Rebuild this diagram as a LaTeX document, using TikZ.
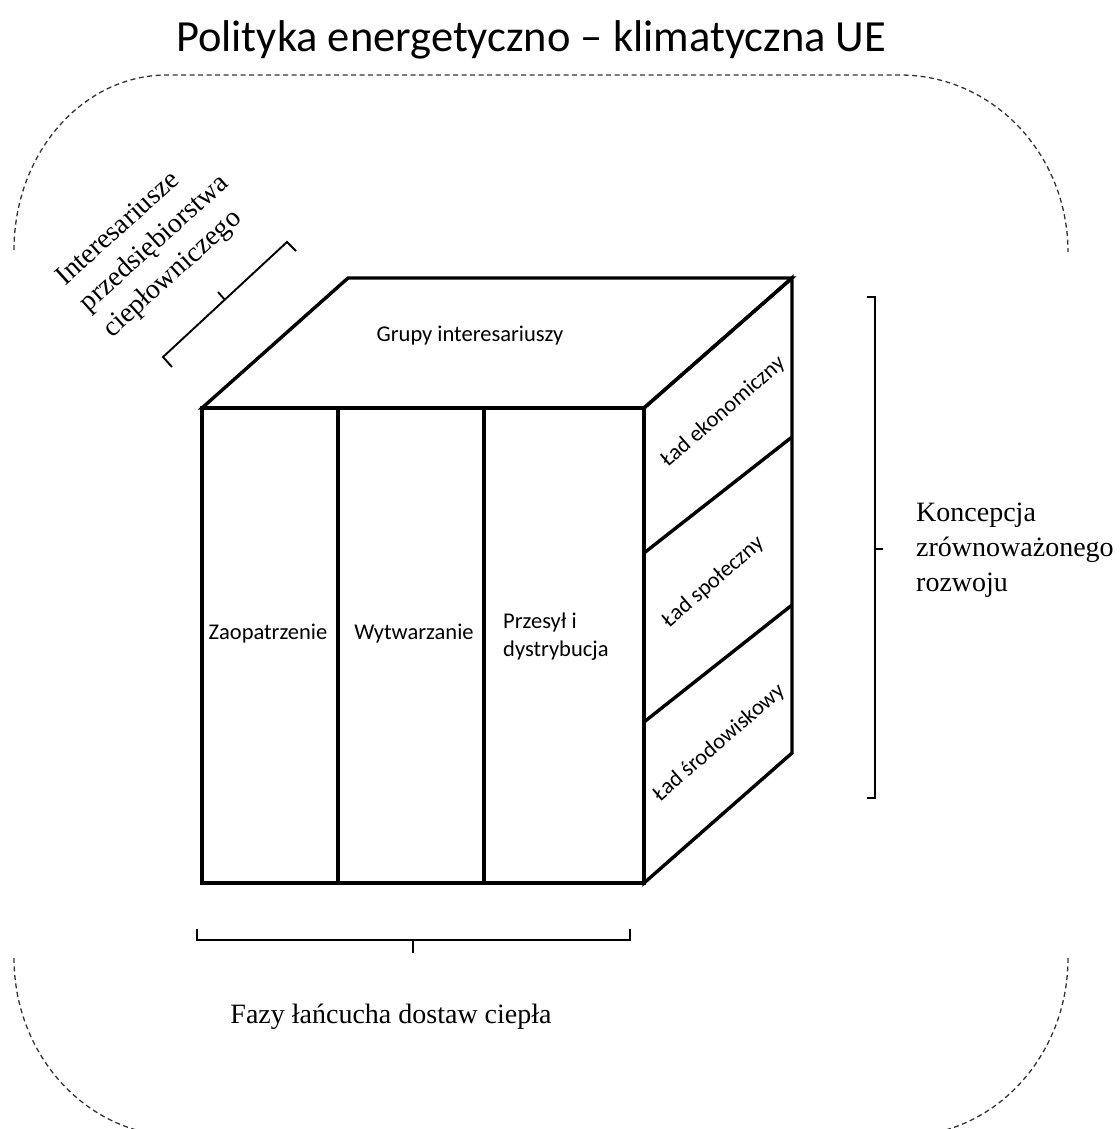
\documentclass[tikz,border=0pt]{standalone}
\usepackage{fontspec}
\setmainfont{Liberation Serif}
\newfontfamily\calib{Carlito}
\begin{document}
\begin{tikzpicture}[x=1pt,y=-1pt,
  cubeline/.style={line width=3.4pt, line join=miter},
  bracketline/.style={line width=1.9pt, line join=miter},
  frameline/.style={dash pattern=on 5pt off 3.5pt, line width=1.3pt, draw=black!80},
  cubelabel/.style={font=\calib\fontsize{22.5}{28}\selectfont, inner sep=0pt},
  seriflabel/.style={font=\fontsize{28}{35}\selectfont, inner sep=0pt}
]
\useasboundingbox (0,0) rectangle (1119,1129);
% title
\node[font=\calib\fontsize{44.5}{50}\selectfont, inner sep=0pt] (title) at (531,40) {Polityka energetyczno – klimatyczna UE};
% dashed frame (corners only)
\draw[frameline] (14,250) arc[start angle=180,end angle=270,x radius=153,y radius=175] -- (900,75)
  arc[start angle=270,end angle=360,x radius=168,y radius=177];
\draw[frameline] (14,958) arc[start angle=180,end angle=90,x radius=165,y radius=178];
\draw[frameline] (1068,958) arc[start angle=0,end angle=90,x radius=165,y radius=178];
% cube corners
\coordinate (ftl) at (202,408);
\coordinate (ftr) at (644,408);
\coordinate (fbr) at (644,883);
\coordinate (fbl) at (202,883);
\coordinate (btl) at (348,278);
\coordinate (btr) at (792,278);
\coordinate (bbr) at (792,753);
\coordinate (d1t) at (338,408);
\coordinate (d1b) at (338,883);
\coordinate (d2t) at (484,408);
\coordinate (d2b) at (484,883);
\coordinate (s1l) at (644,553);
\coordinate (s1r) at (792,437);
\coordinate (s2l) at (644,722);
\coordinate (s2r) at (792,605);
% cube
\draw[cubeline] (ftl) -- (btl) -- (btr) -- (ftr) -- cycle;
\draw[cubeline] (ftr) -- (btr) -- (bbr) -- (fbr) -- cycle;
\draw[cubeline] (ftl) rectangle (fbr);
\draw[cubeline] (d1t) -- (d1b);
\draw[cubeline] (d2t) -- (d2b);
\draw[cubeline] (s1l) -- (s1r);
\draw[cubeline] (s2l) -- (s2r);
% cube labels
\node[cubelabel] (grupy) at (470,336) {Grupy interesariuszy};
\node[cubelabel] (zaop) at (268,634) {Zaopatrzenie};
\node[cubelabel] (wytw) at (414,634) {Wytwarzanie};
\node[cubelabel, anchor=west, align=left] (przes) at (503,637) {Przesył i\\dystrybucja};
\node[cubelabel, rotate=41] (ekon) at (723,412) {Ład ekonomiczny};
\node[cubelabel, rotate=41] (spol) at (713,582) {Ład społeczny};
\node[cubelabel, rotate=41] (srod) at (719,743) {Ład środowiskowy};
% upper-left bracket and label
\coordinate (ula) at (172,367);
\coordinate (ulb) at (163,357);
\coordinate (ulc) at (287,242);
\coordinate (uld) at (296,251);
\coordinate (ulm) at (225,300);
\coordinate (ulmt) at (218,292);
\draw[bracketline] (ula) -- (ulb) -- (ulc) -- (uld);
\draw[bracketline] (ulm) -- (ulmt);
\node[seriflabel, rotate=42, align=left] (inter) at (155,244) {Interesariusze\\przedsiębiorstwa\\ciepłowniczego};
% right bracket and label
\coordinate (rba) at (867,297);
\coordinate (rbb) at (875,297);
\coordinate (rbc) at (875,798);
\coordinate (rbd) at (867,798);
\coordinate (rbm) at (875,549);
\coordinate (rbmt) at (883,549);
\draw[bracketline] (rba) -- (rbb) -- (rbc) -- (rbd);
\draw[bracketline] (rbm) -- (rbmt);
\node[seriflabel, anchor=west, align=left] (konc) at (916,550) {Koncepcja\\zrównoważonego\\rozwoju};
% bottom bracket and label
\coordinate (bba) at (197,929);
\coordinate (bbb) at (197,940);
\coordinate (bbc) at (630,940);
\coordinate (bbd) at (630,929);
\coordinate (bbm) at (413,940);
\coordinate (bbmt) at (413,953);
\draw[bracketline] (bba) -- (bbb) -- (bbc) -- (bbd);
\draw[bracketline] (bbm) -- (bbmt);
\node[seriflabel] (fazy) at (391,1017) {Fazy łańcucha dostaw ciepła};
\end{tikzpicture}
\end{document}
